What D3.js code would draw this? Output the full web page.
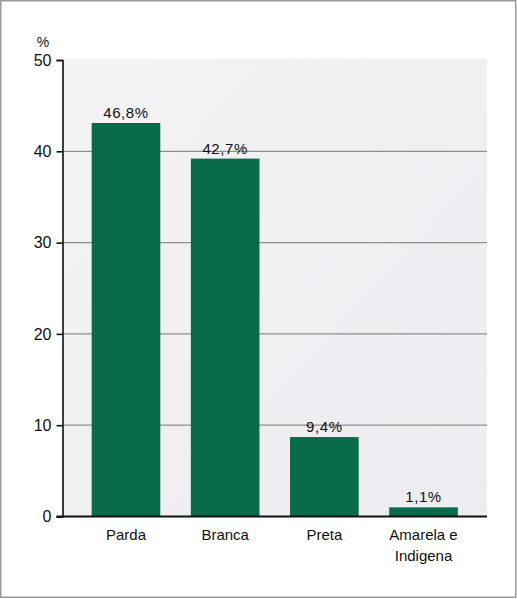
<!DOCTYPE html>
<html>
<head>
<meta charset="utf-8">
<script src="https://cdn.jsdelivr.net/npm/d3@7/dist/d3.min.js"></script>
<style>
  html, body { margin: 0; padding: 0; background: #fff; }
  svg { display: block; }
  text { font-family: "Liberation Sans", Arial, sans-serif; fill: #111; }
</style>
</head>
<body>
<svg id="chart" width="517" height="599"></svg>
<script>
// Data
const categories = ["Parda", "Branca", "Preta", "Amarela e\nIndigena"];
const values = [43.1, 39.2, 8.7, 1.0];
const valueLabels = ["46,8%", "42,7%", "9,4%", "1,1%"];
const yTicks = [0, 10, 20, 30, 40, 50];
const yUnit = "%";

const svg = d3.select("#chart");
const W = 517, H = 599;

// outer frame
svg.append("rect")
  .attr("x", 0.75).attr("y", 0.75)
  .attr("width", W - 2).attr("height", H - 2.5)
  .attr("fill", "#fff").attr("stroke", "#9a9a9a").attr("stroke-width", 1.5);

const plot = { left: 62.5, right: 487, top: 60, bottom: 516.5 };

const x = d3.scaleBand()
  .domain(categories)
  .range([plot.left, plot.right])
  .paddingInner(0.308)
  .paddingOuter(0.294);

const y = d3.scaleLinear().domain([0, 50]).range([plot.bottom, plot.top]);

// background gradient
const defs = svg.append("defs");
const grad = defs.append("linearGradient").attr("id", "bg")
  .attr("x1", "0%").attr("y1", "0%").attr("x2", "100%").attr("y2", "100%");
grad.append("stop").attr("offset", "0%").attr("stop-color", "#f3f3f5");
grad.append("stop").attr("offset", "100%").attr("stop-color", "#ededf1");

svg.append("rect")
  .attr("x", plot.left).attr("y", y(50) - 1)
  .attr("width", plot.right - plot.left)
  .attr("height", plot.bottom - y(50) + 1)
  .attr("fill", "url(#bg)");

// gridlines
svg.append("g")
  .selectAll("line")
  .data(yTicks.filter(d => d > 0 && d < 50))
  .join("line")
  .attr("x1", plot.left).attr("x2", plot.right)
  .attr("y1", d => y(d)).attr("y2", d => y(d))
  .attr("stroke", "#8f8f8f").attr("stroke-width", 1.3);

// bars
svg.append("g")
  .selectAll("rect")
  .data(values)
  .join("rect")
  .attr("x", (d, i) => x(categories[i]))
  .attr("width", x.bandwidth())
  .attr("y", d => y(d))
  .attr("height", d => y(0) - y(d))
  .attr("fill", "#0a6b4a");

// value labels
svg.append("g")
  .selectAll("text")
  .data(values)
  .join("text")
  .attr("x", (d, i) => x(categories[i]) + x.bandwidth() / 2)
  .attr("y", d => y(d) - 5)
  .attr("text-anchor", "middle")
  .attr("font-size", 15)
  .attr("letter-spacing", 0.6)
  .text((d, i) => valueLabels[i]);

// y axis
const yAxis = d3.axisLeft(y).tickValues(yTicks).tickSize(6).tickPadding(5)
  .tickFormat(d3.format("d"));
const gy = svg.append("g").attr("transform", `translate(${plot.left},0)`).call(yAxis);
gy.select(".domain").attr("stroke", "#111").attr("stroke-width", 1.6);
gy.selectAll(".tick line").attr("stroke", "#111").attr("stroke-width", 1.6);
gy.selectAll(".tick text")
  .attr("font-size", 16)
  .attr("font-family", "Liberation Sans, Arial, sans-serif")
  .attr("fill", "#111");

// baseline
svg.append("line")
  .attr("x1", plot.left - 6).attr("x2", plot.right)
  .attr("y1", y(0)).attr("y2", y(0))
  .attr("stroke", "#111").attr("stroke-width", 2);

// unit label
svg.append("text")
  .attr("x", 43).attr("y", 47)
  .attr("text-anchor", "middle")
  .attr("font-size", 14)
  .text(yUnit);

// category labels
const cat = svg.append("g")
  .selectAll("text")
  .data(categories)
  .join("text")
  .attr("x", d => x(d) + x.bandwidth() / 2)
  .attr("y", 540)
  .attr("text-anchor", "middle")
  .attr("font-size", 15);
cat.each(function(d) {
  const lines = d.split("\n");
  const t = d3.select(this);
  lines.forEach((ln, i) => {
    t.append("tspan")
      .attr("x", t.attr("x"))
      .attr("dy", i === 0 ? 0 : 20.5)
      .text(ln);
  });
});
</script>
</body>
</html>
